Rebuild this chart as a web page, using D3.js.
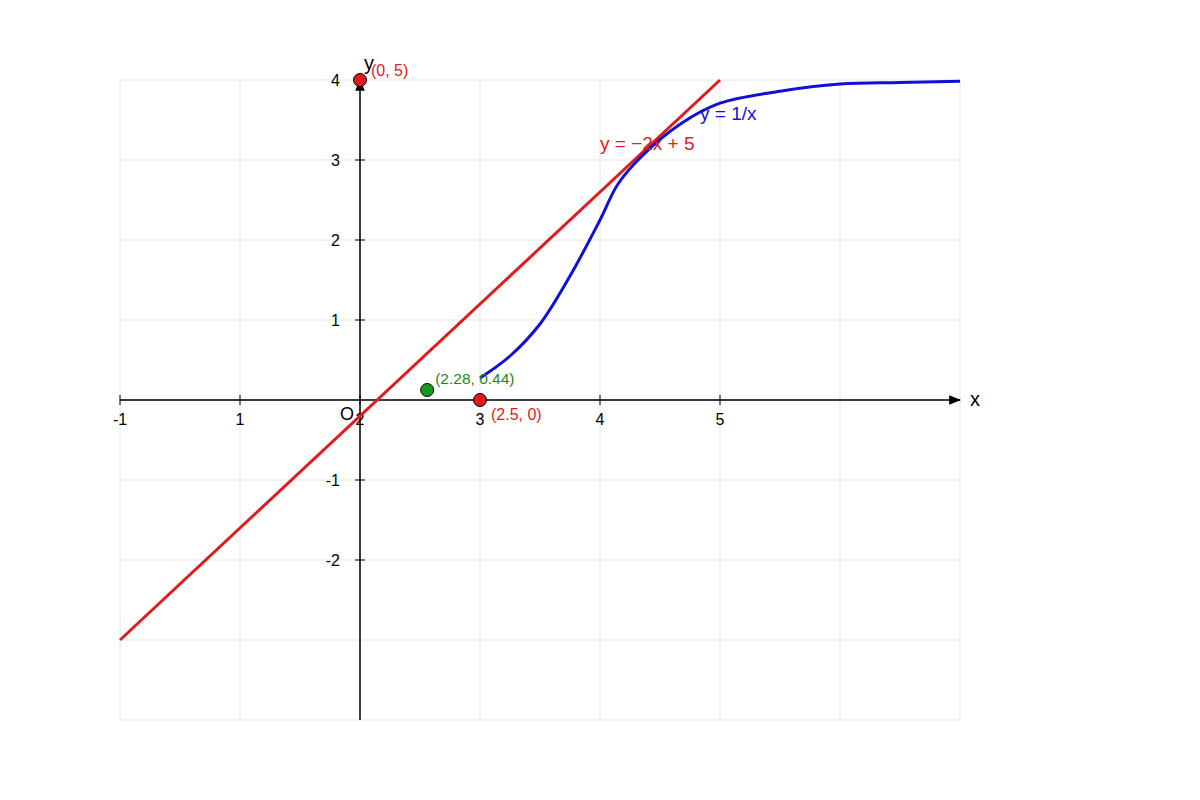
<!DOCTYPE html>
<html><head><meta charset="utf-8">
<script src="https://cdn.jsdelivr.net/npm/d3@7"></script>
<style>body{margin:0;background:#fff}text{font-family:"Liberation Sans",Arial,sans-serif}</style>
</head><body><svg id="c" width="1200" height="800"></svg>
<script>
// drawing units: x grid -2..5, y grid -4..4
const xGrid = [-2,-1,0,1,2,3,4,5];
const yGrid = [-4,-3,-2,-1,0,1,2,3,4];
const xTickPos = [-2,-1,0,1,2,3];
const xTickLabels = ["-1","1","2","3","4","5"];
const yTickPos = [4,3,2,1,-1,-2];
const yTickLabels = ["4","3","2","1","-1","-2"];
const redLine = [[-2,-3],[3,4]];
const blueCurve = [[1,0.275],[1.25,0.55],[1.5,0.95],[1.75,1.55],[2,2.25],[2.15,2.7],[2.35,3.05],[2.67,3.45],[3,3.71],[3.5,3.86],[4,3.95],[4.5,3.97],[5,3.985]];
const redPoints = [{x:0,y:4,label:"(0, 5)"},{x:1,y:0,label:"(2.5, 0)"}];
const greenPoint = {x:0.56,y:0.125,label:"(2.28, 0.44)"};

const svg = d3.select("#c");
const x = d3.scaleLinear().domain([-2,5]).range([120,960]);
const y = d3.scaleLinear().domain([-4,4]).range([720,80]);

const g = svg.append("g");
g.selectAll(".vx").data(xGrid).join("line").attr("x1",d=>x(d)).attr("x2",d=>x(d)).attr("y1",y(-4)).attr("y2",y(4)).attr("stroke","#e6e6e6");
g.selectAll(".hy").data(yGrid).join("line").attr("y1",d=>y(d)).attr("y2",d=>y(d)).attr("x1",x(-2)).attr("x2",x(5)).attr("stroke","#e6e6e6");

svg.append("defs").append("marker").attr("id","ar").attr("viewBox","0 0 10 10").attr("refX",9).attr("refY",5)
 .attr("markerWidth",8).attr("markerHeight",8).attr("orient","auto").append("path").attr("d","M0,1L10,5L0,9Z").attr("fill","#000");
svg.append("line").attr("x1",x(-2)).attr("x2",x(5)).attr("y1",y(0)).attr("y2",y(0)).attr("stroke","#000").attr("stroke-width",1.5).attr("marker-end","url(#ar)");
svg.append("line").attr("x1",x(0)).attr("x2",x(0)).attr("y1",y(-4)).attr("y2",y(4)).attr("stroke","#000").attr("stroke-width",1.5).attr("marker-end","url(#ar)");

svg.selectAll(".xt").data(xTickPos).join("line").attr("x1",d=>x(d)).attr("x2",d=>x(d)).attr("y1",y(0)-5).attr("y2",y(0)+5).attr("stroke","#000");
svg.selectAll(".xl").data(xTickPos).join("text").attr("x",d=>x(d)).attr("y",y(0)+25).attr("text-anchor","middle").attr("font-size",16).text((d,i)=>xTickLabels[i]);
svg.selectAll(".yt").data(yTickPos).join("line").attr("y1",d=>y(d)).attr("y2",d=>y(d)).attr("x1",x(0)-5).attr("x2",x(0)+5).attr("stroke","#000");
svg.selectAll(".yl").data(yTickPos).join("text").attr("x",x(0)-20).attr("y",d=>y(d)+6).attr("text-anchor","end").attr("font-size",16).text((d,i)=>yTickLabels[i]);
svg.append("text").attr("x",970).attr("y",y(0)+6).attr("font-size",20).text("x");
svg.append("text").attr("x",x(0)+4).attr("y",70).attr("font-size",20).text("y");
svg.append("text").attr("x",x(0)-20).attr("y",y(0)+20).attr("font-size",18).text("O");

svg.append("path").datum(redLine).attr("d",d3.line().x(d=>x(d[0])).y(d=>y(d[1]))).attr("stroke","#e31a1c").attr("stroke-width",3).attr("fill","none");
svg.append("path").datum(blueCurve).attr("d",d3.line().x(d=>x(d[0])).y(d=>y(d[1])).curve(d3.curveCatmullRom)).attr("stroke","#1010d8").attr("stroke-width",3).attr("fill","none");

svg.append("text").attr("x",600).attr("y",150).attr("fill","#e31a1c").attr("font-size",19).text("y = −2x + 5");
svg.append("text").attr("x",700).attr("y",120).attr("fill","#1010d8").attr("font-size",19).text("y = 1/x");

svg.selectAll(".rp").data(redPoints).join("circle").attr("cx",d=>x(d.x)).attr("cy",d=>y(d.y)).attr("r",6.5).attr("fill","#e31a1c").attr("stroke","#000");
svg.selectAll(".rpl").data(redPoints).join("text").attr("x",d=>x(d.x)+11).attr("y",d=>y(d.y)-4+(d.y===0?24:0)).attr("fill","#e31a1c").attr("font-size",16).text(d=>d.label);
svg.append("circle").attr("cx",x(greenPoint.x)).attr("cy",y(greenPoint.y)).attr("r",6.5).attr("fill","#1a9a1a").attr("stroke","#000");
svg.append("text").attr("x",x(greenPoint.x)+8).attr("y",y(greenPoint.y)-6).attr("fill","#1a8a1a").attr("font-size",15.5).text(greenPoint.label);
</script></body></html>
